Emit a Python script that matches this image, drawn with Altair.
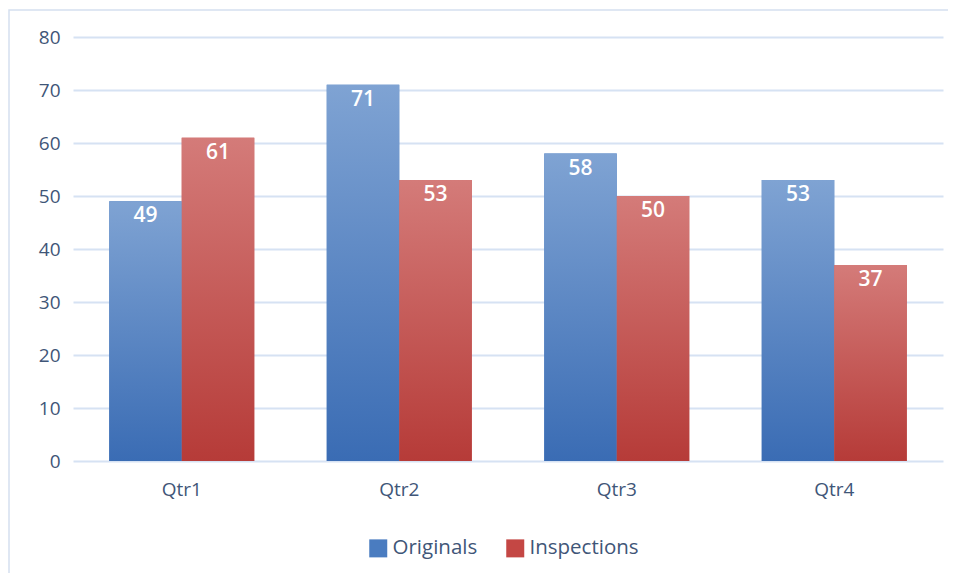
import altair as alt
import pandas as pd

quarters = ["Qtr1", "Qtr2", "Qtr3", "Qtr4"]
originals = [49, 71, 58, 53]
inspections = [61, 53, 50, 37]
series_names = ["Originals", "Inspections"]
y_ticks = [0, 10, 20, 30, 40, 50, 60, 70, 80]

rows = []
for q, o, i in zip(quarters, originals, inspections):
    rows.append({"quarter": q, "series": "Originals", "value": o})
    rows.append({"quarter": q, "series": "Inspections", "value": i})
df = pd.DataFrame(rows)

W, H = 870, 424
FONT = "Open Sans"
TEXT_COLOR = "#3f5678"

x_enc = alt.X("quarter:N", sort=quarters, title=None,
              scale=alt.Scale(paddingInner=1/3, paddingOuter=1/6),
              axis=alt.Axis(labelFontSize=19, labelColor=TEXT_COLOR, labelFont=FONT,
                            labelPadding=19, ticks=False, domain=False, labelAngle=0,
                            grid=False))
y_enc = alt.Y("value:Q", title=None,
              scale=alt.Scale(domain=[0, 80], nice=False),
              axis=alt.Axis(values=y_ticks, labelFontSize=19, labelColor=TEXT_COLOR,
                            labelFont=FONT, labelPadding=13, ticks=False, domain=False,
                            gridColor="#d6e2f3", gridWidth=2))
xoff = alt.XOffset("series:N", sort=series_names, scale=alt.Scale(paddingInner=0, paddingOuter=0))

base = alt.Chart(df)

solid = base.mark_bar().encode(
    x=x_enc, y=y_enc, xOffset=xoff,
    color=alt.Color("series:N", sort=series_names, title=None,
                    scale=alt.Scale(domain=series_names, range=["#4a7cc0", "#c44744"]),
                    legend=alt.Legend(orient="none", direction="horizontal",
                                      legendX=295, legendY=501,
                                      symbolType="square", symbolSize=324,
                                      symbolStrokeWidth=0,
                                      labelFontSize=20.5, labelFont=FONT,
                                      labelColor=TEXT_COLOR, columnPadding=27,
                                      labelOffset=4)),
)

def grad(top, bottom):
    return alt.LinearGradient(
        gradient="linear", x1=0, x2=0, y1=0, y2=1,
        stops=[alt.GradientStop(color=top, offset=0),
               alt.GradientStop(color=bottom, offset=1)])

blue = base.mark_bar(color=grad("#7fa3d3", "#3a6cb4")).encode(
    x=x_enc, y=y_enc, xOffset=xoff
).transform_filter(alt.datum.series == "Originals")

red = base.mark_bar(color=grad("#d47b79", "#b63b38")).encode(
    x=x_enc, y=y_enc, xOffset=xoff
).transform_filter(alt.datum.series == "Inspections")

labels = base.mark_text(color="white", fontSize=21, fontWeight=600, font=FONT,
                        baseline="middle", dy=15).encode(
    x=x_enc, y=y_enc, xOffset=xoff, text=alt.Text("value:Q")
)

frame = alt.Chart(pd.DataFrame({"a": [0]})).mark_rect(
    fill=None, stroke="#d5e0ef", strokeWidth=1.5
).encode(x=alt.value(-64), x2=alt.value(900), y=alt.value(-27), y2=alt.value(600))

chart = alt.layer(frame, solid, blue, red, labels).properties(
    width=W, height=H,
    background="white",
    autosize=alt.AutoSizeParams(type="none"),
    padding={"left": 65, "top": 29, "right": 5, "bottom": 112},
).configure_view(strokeWidth=0, stroke="transparent")

chart.save("out.html", embed_options={"renderer": "svg", "actions": False})
